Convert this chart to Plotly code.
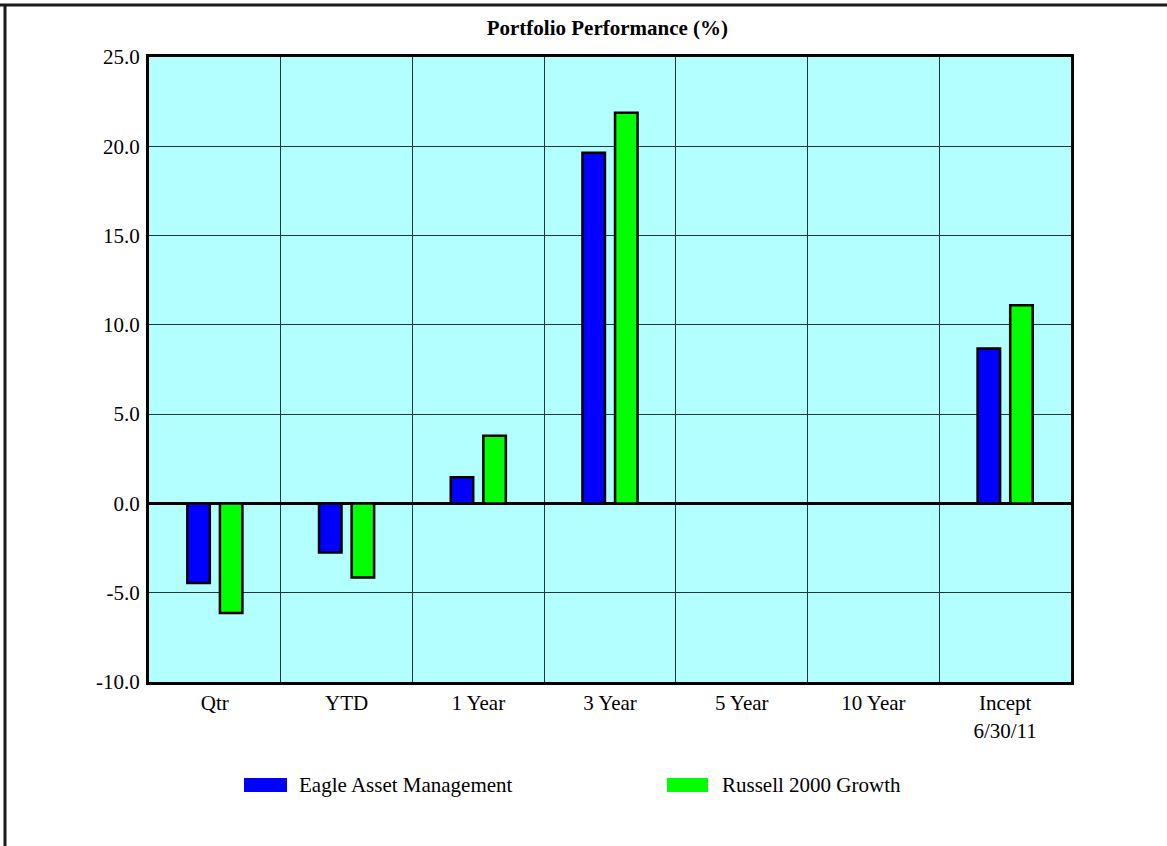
import plotly.graph_objects as go

categories = ["Qtr", "YTD", "1 Year", "3 Year", "5 Year", "10 Year", "Incept<br>6/30/11"]
eagle = [-4.45, -2.75, 1.46, 19.64, None, None, 8.68]
russell = [-6.14, -4.15, 3.79, 21.88, None, None, 11.10]
series_names = ["Eagle Asset Management", "Russell 2000 Growth"]
series_colors = ["#0000ff", "#00ff00"]
y_ticks = [-10, -5, 0, 5, 10, 15, 20, 25]

FONT = "Liberation Serif, Times New Roman, serif"
FS = 21

fig = go.Figure()
for name, vals, col in zip(series_names, [eagle, russell], series_colors):
    fig.add_trace(go.Bar(
        x=categories, y=vals, name=name,
        marker=dict(color=col, line=dict(color="#000000", width=2.5)),
        showlegend=False,
    ))

fig.update_layout(
    width=1167, height=846,
    margin=dict(l=149, r=96, t=57, b=164),
    paper_bgcolor="#ffffff",
    plot_bgcolor="#b3ffff",
    barmode="group",
    bargap=0.505,
    bargroupgap=0.31,
    font=dict(family=FONT, size=FS, color="#000000"),
    title=dict(text="<b>Portfolio Performance (%)</b>", x=0.5205, xanchor="center",
               y=0.967, yanchor="middle", font=dict(family=FONT, size=FS)),
)

fig.update_xaxes(
    type="category",
    tickson="boundaries",
    showgrid=True, gridcolor="#1a3a3a", gridwidth=1,
    showline=True, linecolor="#000000", linewidth=3, mirror=True,
    ticks="", ticklabelstandoff=0,
    tickfont=dict(family=FONT, size=FS),
)
fig.update_yaxes(
    range=[-10, 25],
    tickvals=y_ticks,
    ticktext=[f"{v:.1f}" for v in y_ticks],
    showgrid=True, gridcolor="#1a3a3a", gridwidth=1,
    zeroline=True, zerolinecolor="#000000", zerolinewidth=3,
    showline=True, linecolor="#000000", linewidth=3, mirror=True,
    ticks="", ticklabelstandoff=2,
    tickfont=dict(family=FONT, size=FS),
)

# outer frame (top and left edges)
fig.add_shape(type="line", xref="paper", yref="paper", x0=-149/922, x1=(1167-149)/922,
              y0=(682-5)/625, y1=(682-5)/625, line=dict(color="#1a1a1a", width=3))
fig.add_shape(type="line", xref="paper", yref="paper", x0=-144/922, x1=-144/922,
              y0=-164/625, y1=(682-5)/625, line=dict(color="#1a1a1a", width=3))

# custom legend
legend_items = [(244, 287, 297), (667, 708, 720)]
for (sx0, sx1, tx), name, col in zip(legend_items, series_names, series_colors):
    fig.add_shape(type="rect", xref="paper", yref="paper",
                  x0=(sx0 - 149) / 922, x1=(sx1 - 149) / 922,
                  y0=(682 - 792) / 625, y1=(682 - 778) / 625,
                  fillcolor=col, line=dict(width=0))
    fig.add_annotation(xref="paper", yref="paper", x=(tx - 149) / 922, y=(682 - 785) / 625,
                       text=name, showarrow=False, xanchor="left", yanchor="middle",
                       font=dict(family=FONT, size=FS))

fig.write_html("out.html", config={"displayModeBar": False},
               post_script="document.body.style.margin='0px';")
